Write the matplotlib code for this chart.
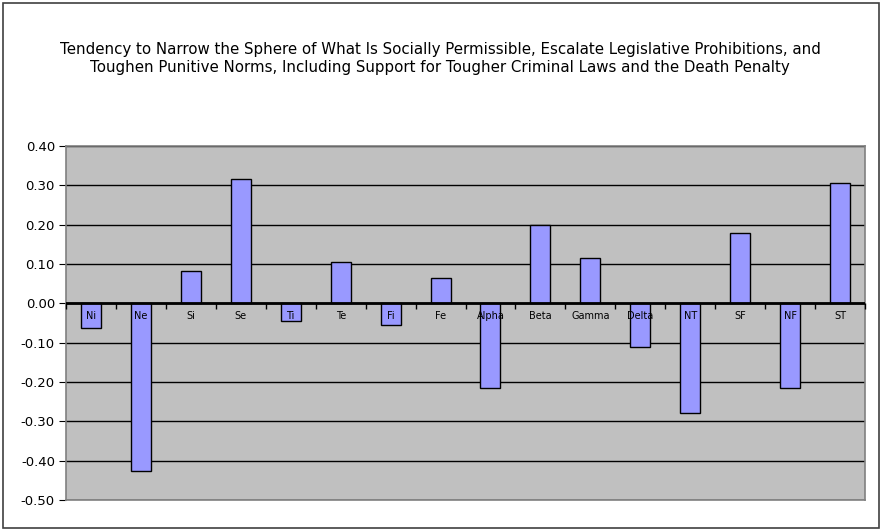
import matplotlib
matplotlib.use("Agg")
import matplotlib.pyplot as plt
import numpy as np
from matplotlib.patches import Rectangle

categories = ["Ni", "Ne", "Si", "Se", "Ti", "Te", "Fi", "Fe", "Alpha", "Beta",
              "Gamma", "Delta", "NT", "SF", "NF", "ST"]
values = [-0.062, -0.426, 0.081, 0.317, -0.044, 0.104, -0.054, 0.065, -0.215, 0.200,
          0.116, -0.110, -0.279, 0.180, -0.215, 0.305]
yticks = [0.40, 0.30, 0.20, 0.10, 0.00, -0.10, -0.20, -0.30, -0.40, -0.50]
title = ("Tendency to Narrow the Sphere of What Is Socially Permissible, Escalate Legislative Prohibitions, and\n"
         "Toughen Punitive Norms, Including Support for Tougher Criminal Laws and the Death Penalty")

plt.rcParams['font.family'] = ['DejaVu Sans']
W, H = 882, 531
fig = plt.figure(figsize=(W / 100, H / 100), dpi=100)
fig.patch.set_facecolor("white")
fig.add_artist(Rectangle((2.5 / W, 1 - 528 / H), 876.5 / W, 525.5 / H, transform=fig.transFigure,
                         fill=False, edgecolor="#404040", linewidth=1.2))

ax = fig.add_axes([66 / W, 1 - 500 / H, (865 - 66) / W, (500 - 146) / H])
ax.set_facecolor("#C0C0C0")
x = np.arange(len(categories))
ax.set_xlim(-0.5, len(categories) - 0.5)
ax.set_ylim(min(yticks), max(yticks))

ax.set_axisbelow(True)
ax.yaxis.grid(True, color="black", linewidth=1)
ax.bar(x, values, width=0.4, color="#9999FF", edgecolor="black", linewidth=1, zorder=2)
ax.axhline(0, color="black", linewidth=2, zorder=3)
bounds = np.arange(len(categories) + 1) - 0.5
ax.plot(bounds, np.zeros_like(bounds), linestyle="none", marker=3, markersize=4,
        color="black", markeredgewidth=1, zorder=3, clip_on=False)

for xi, lab in zip(x, categories):
    ax.annotate(lab, (xi, 0), xytext=(0, -9), textcoords="offset points",
                ha="center", va="center", fontsize=7, color="black", zorder=5)

ax.set_yticks(yticks)
ax.set_yticklabels([f"{v:.2f}" for v in yticks], fontsize=9.5)
ax.tick_params(axis="y", direction="out", length=5, color="black", pad=3)
ax.set_xticks([])
for s in ax.spines.values():
    s.set_color("#808080")
    s.set_linewidth(1.2)

fig.text(440 / W, 1 - 58.5 / H, title, ha="center", va="center", fontsize=10.8, linespacing=1.2)

fig.savefig("out.png", dpi=100)
